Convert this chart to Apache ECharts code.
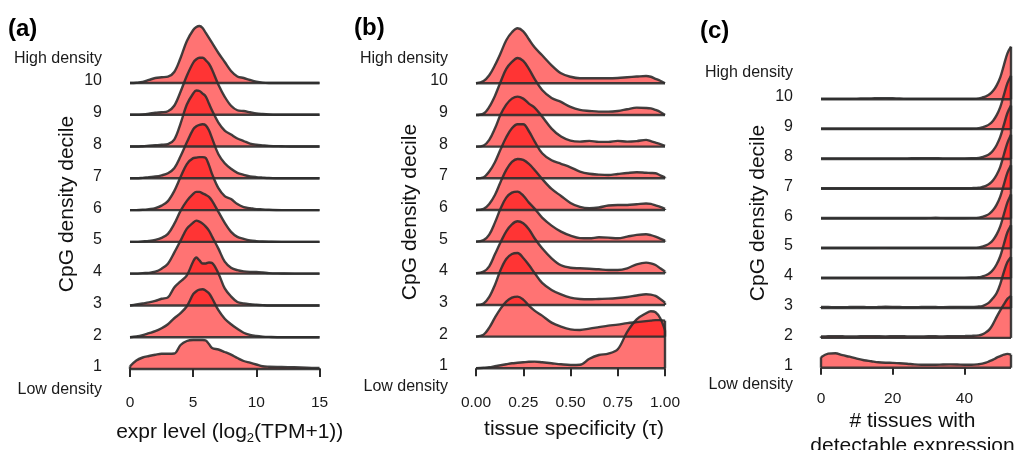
<!DOCTYPE html>
<html>
<head>
<meta charset="utf-8">
<script src="https://cdn.jsdelivr.net/npm/echarts@6/dist/echarts.min.js"></script>
<style>
html,body{margin:0;padding:0;background:#ffffff;}
#chart{width:1019px;height:450px;}
</style>
</head>
<body>
<div id="chart"></div>
<script>
// ---------- labels ----------
const deciles = ['1','2','3','4','5','6','7','8','9','10'];
const highLabel = 'High density';
const lowLabel = 'Low density';
const panelTitles = ['(a)', '(b)', '(c)'];
const yTitle = 'CpG density decile';

// ---------- panel (a): expression level, relative density per decile ----------
const exprX = [0,0.5,1,1.5,2,2.5,3,3.5,4,4.5,5,5.25,5.5,5.75,6,6.25,6.5,7,7.5,8,8.5,9,9.5,10,10.5,11,12,13,14,15];
const exprTicks = [0,5,10,15];
const exprD1  = [2.7,8.5,11.5,13,14.3,15.3,15.3,15.5,24,28,29,29,29,29,28.5,25,21,19.5,17,14.3,11,8,6.3,4.5,2.7,2.3,2,1.7,1.3,1];
const exprD2  = [0,0.7,2,4,6,9,13,19,24,31,43,46,47.5,48,46.5,44,39,27,18.5,13,8.5,4.5,2.3,1.2,0.6,0.3,0,0,0,0];
const exprD3  = [0,1,2,3,4.5,6.7,8,18,24,30,44,48,45,42,42,43,42.5,32,17,9,3.5,2,1.2,0.7,0.3,0,0,0,0,0];
const exprD4  = [0,0,0.5,0.8,2,5,10,21,33,45,51,53,52,50,47,43,37,25,12,6,3.5,2.3,1.8,1.7,1.2,0.5,0.2,0,0,0];
const exprD5  = [0,0,0.5,1,2,4,8,18,31,41,48,50,50,48.5,47,45,41,30,19,10,5,3,1.5,0.8,0.4,0.2,0,0,0,0];
const exprD6  = [0,0,0.3,1,2,4.5,9,19,33,46,52,52.5,53,53,52,45,36,22,14,11,6,3,2,1,0.7,0.3,0,0,0,0];
const exprD7  = [0,0,0.5,1.2,1.8,3,5,10,22,36,49,52,53.5,54,53,48,40,24,15,9.5,5.5,3.5,2,1.2,0.7,0.3,0,0,0,0];
const exprD8  = [0,0,0.3,0.8,1.3,1.8,2.5,7,23,42,53,56,55.5,53,50,43,36,24,16,12,8,5.5,3,1.8,1.2,0.7,0.3,0,0,0];
const exprD9  = [0,0,0.3,1,2,2.5,3.5,9,23,39,52,55.5,57,57,54.5,51,45,30,18,9,4.5,3.7,2.5,1.3,0.7,0.3,0,0,0,0];
const exprD10 = [0,0.3,1,3,5,5.7,6.3,11,25,42,53,56,57,55,50,45,40,30,21,12,6.5,5,3,1.3,0.3,0,0,0,0,0];

// ---------- panel (b): tissue specificity tau ----------
const tauX = [0,0.04,0.07,0.10,0.13,0.16,0.19,0.22,0.25,0.28,0.31,0.35,0.40,0.45,0.50,0.55,0.60,0.65,0.70,0.75,0.80,0.85,0.90,0.925,0.95,0.975,1.00];
const tauTicks = [0,0.25,0.5,0.75,1];
const tauD1  = [0,0.5,1,2,3,4,5,5.5,6,6.5,6.7,6,5,4,3.3,3.5,9.5,13.3,14.7,19,36.5,49,55,57,56,50,38];
const tauD2  = [0,2,9,19,28,35,39,40,37,31,26,21,14,10,7.3,6.7,8,9.5,11,12,13.5,14.5,15.5,16,16.5,16.5,16];
const tauD3  = [0,1.5,8,20,35,46,51,52,47,40,32,22,15,10.5,7.3,6,5.7,6,6.3,7,8,9.5,10.7,10.3,9,6,2.3];
const tauD4  = [0,1.7,7,19,31,42,49,52,50,44,35,25,15,8,5.5,5,4.5,4,3.3,3.3,5,9,10.7,10,8.3,5,1.7];
const tauD5  = [0,1.5,7,19,33,44,49,50,46,39,33,24,16,10,6,3.5,3.3,4.3,4,3.3,5,6.7,7.3,6.5,5,3,1];
const tauD6  = [0,1,6,15,28,40,48,51,50,46,40,31,21,14,7,3,1.7,2.5,4.5,5,5,5.7,6.5,6,4.5,3,1];
const tauD7  = [0,1,6.7,16,29,41,50,54,54,47,37,25,18,14.5,11,6.7,4.5,3.7,3.3,4.3,5.3,6,5.5,5.3,5,3,1];
const tauD8  = [0,1,6.7,18,32,42,48,50,48,43,39,30,18,10,6,5,5.7,4.7,4.7,5.7,5,5.5,6.7,5.5,4,2.5,0.7];
const tauD9  = [0,1.3,8,19,33,46,53,57,54,46,36,25,17,13,8,5,4,3.3,3.3,4,5.7,7.3,7,6.5,5,3,0];
const tauD10 = [0,2.3,8,18,30,43,51,55,52,44,36,28,18,10,6.5,5,5,5,5,5.3,6,6.7,7.3,6.5,4.5,2.5,0];

// ---------- panel (c): number of tissues with detectable expression ----------
const tissX = [0,2,4,6,8,10,12,14,16,18,20,22,24,26,28,30,32,34,36,38,40,42,44,45,46,47,48,49,50,51,52,53];
const tissTicks = [0,20,40];
const tissD1  = [10.5,14,14.5,12.5,11,9,7.5,6.5,5.5,5,4.8,4.5,4,3.3,3,3,3,3.2,3.3,3.2,3,3,3.5,4,5,6.5,8,10,11.5,13,13.8,13];
const tissD2  = [1.5,1.6,1.8,1.6,1.4,1.5,1.7,1.8,1.6,1.5,1.6,1.7,1.5,1.4,1.5,1.6,1.6,1.5,1.6,1.7,1.8,2,2.5,3.5,5.5,8.5,14,21,27.5,33.5,39,42];
const tissD3  = [1,1,0.8,0.8,1,1.2,1,0.8,1,1.3,1.2,1,0.8,0.8,1,1.1,1,0.9,1,1.2,1.1,1,1.5,2,3.5,6,10,15,24,36,46,51];
const tissD4  = [0.6,0.6,0.6,0.6,0.6,0.6,0.6,0.6,0.6,0.6,0.6,0.6,0.6,0.6,0.6,0.6,0.6,0.6,0.6,0.6,0.6,0.7,1,1.8,3,5,8.5,14,22,34,46,53];
const tissD5  = [0.6,0.6,0.6,0.6,0.6,0.6,0.6,0.7,0.8,0.8,0.7,0.6,0.6,0.6,0.6,0.6,0.6,0.6,0.6,0.6,0.6,0.7,1,1.8,3,5,8.5,14,22,34,46,54];
const tissD6  = [0.6,0.6,0.6,0.6,0.6,0.6,0.6,0.6,0.6,0.6,0.6,0.6,0.6,0.6,0.6,0.7,0.8,0.7,0.6,0.6,0.6,0.7,1,1.8,3,5,8.5,14,22,34,46,53.3];
const tissD7  = [0.6,0.6,0.6,0.6,0.6,0.6,0.6,0.6,0.6,0.6,0.6,0.6,0.6,0.6,0.6,0.6,0.6,0.6,0.6,0.6,0.6,0.7,1,1.8,3,5,8.5,14,22,34,46,54];
const tissD8  = [0.6,0.6,0.6,0.6,0.6,0.6,0.6,0.6,0.6,0.6,0.6,0.6,0.6,0.7,0.8,0.8,0.7,0.6,0.6,0.6,0.6,0.7,1,1.8,3,5,8.5,14,22,34,46,53.3];
const tissD9  = [0.6,0.6,0.6,0.6,0.6,0.6,0.6,0.6,0.6,0.6,0.6,0.6,0.6,0.6,0.6,0.6,0.6,0.6,0.6,0.6,0.6,0.7,1,1.8,3,5,8.5,14,22,34,46,53.3];
const tissD10 = [0.5,0.5,0.5,0.5,0.6,0.7,0.8,0.9,1.1,1.2,1,0.8,0.6,0.5,0.5,0.5,0.5,0.5,0.5,0.5,0.5,0.6,1,1.8,3,5,8.5,14,22,34,46,52.6];

// ---------- styling / layout ----------
const FONT = "'Liberation Sans', Arial, Helvetica, sans-serif";
const FILL = 'rgba(255,0,0,0.55)';
const OUTLINE = 'rgba(45,45,45,0.9)';
const LW = 2.4;
const TEXT = '#111111';

const panels = [
  { xs: exprX, ridges: [exprD1,exprD2,exprD3,exprD4,exprD5,exprD6,exprD7,exprD8,exprD9,exprD10],
    ticks: exprTicks, fmt: v => String(v), xmin: 0, xmax: 15,
    left: 130, right: 319.5, base1: 369, spacing: 31.78, top: 12, bottom: 396, axisPx: 380,
    tickLen: 8, labelMargin: 14.5, hiPx: 59, loPx: 390, lift: 2,
    xName: 'expr level (log{sub|2}(TPM+1))', xNameGap: 40, xNamePad: [0,0,0,10], yNameGap: 52 },
  { xs: tauX, ridges: [tauD1,tauD2,tauD3,tauD4,tauD5,tauD6,tauD7,tauD8,tauD9,tauD10],
    ticks: tauTicks, fmt: v => v.toFixed(2), xmin: 0, xmax: 1,
    left: 476, right: 665, base1: 368.3, spacing: 31.67, top: 29, bottom: 395, axisPx: 377,
    tickLen: 8, labelMargin: 17.5, hiPx: 59, loPx: 387, lift: 2.5,
    xName: 'tissue specificity (τ)', xNameGap: 40, xNamePad: [0,0,0,7], yNameGap: 55 },
  { xs: tissX, ridges: [tissD1,tissD2,tissD3,tissD4,tissD5,tissD6,tissD7,tissD8,tissD9,tissD10],
    ticks: tissTicks, fmt: v => String(v), xmin: 0, xmax: 53,
    left: 821, right: 1011, base1: 367.7, spacing: 29.82, top: 33, bottom: 393, axisPx: 376,
    tickLen: 7, labelMargin: 14.5, hiPx: 72.7, loPx: 385, lift: 2.5,
    xName: '# tissues with\ndetectable expression', xNameGap: 33, xNamePad: [0,7,0,0], yNameGap: 52 }
];
const titlePos = [{left: 8, top: 17}, {left: 354, top: 16}, {left: 700, top: 19}];

const grids = [], xAxes = [], yAxes = [], series = [];

panels.forEach((p, pi) => {
  const rowOf = px => (p.base1 - px) / p.spacing;   // pixel -> row units (layout helper)
  const yMin = rowOf(p.bottom), yMax = rowOf(p.top);
  grids.push({ left: p.left, top: p.top, width: p.right - p.left, height: p.bottom - p.top,
               outerBoundsMode: 'none', containLabel: false });

  xAxes.push({
    gridIndex: pi, type: 'value', min: p.xmin, max: p.xmax,
    offset: p.axisPx - p.bottom,
    axisLine: { show: false }, splitLine: { show: false },
    axisTick: { show: true, length: p.tickLen, customValues: p.ticks, lineStyle: { color: '#2a2a2a', width: 2 } },
    axisLabel: { customValues: p.ticks, formatter: p.fmt, margin: p.labelMargin,
                 fontSize: 15.5, color: '#1a1a1a', fontFamily: FONT },
    name: p.xName, nameLocation: 'middle', nameGap: p.xNameGap, nameMoveOverlap: false,
    nameTextStyle: { fontSize: 21, color: TEXT, fontFamily: FONT, lineHeight: 25, padding: p.xNamePad,
                     rich: { sub: { fontSize: 13, color: TEXT, fontFamily: FONT, padding: [12,0,0,0] } } }
  });

  const liftRows = p.lift / p.spacing;
  const labelVals = deciles.map((d, i) => i + liftRows);
  const labelTexts = deciles.slice();
  labelVals.push(rowOf(p.hiPx)); labelTexts.push(highLabel);
  labelVals.push(rowOf(p.loPx)); labelTexts.push(lowLabel);
  yAxes.push({
    gridIndex: pi, type: 'value', min: yMin, max: yMax,
    axisLine: { show: false }, axisTick: { show: false }, splitLine: { show: false },
    axisLabel: {
      customValues: labelVals, margin: 28, fontSize: 16, color: '#1a1a1a', fontFamily: FONT,
      formatter: v => {
        let best = 0, bd = Infinity;
        labelVals.forEach((lv, k) => { const d = Math.abs(lv - v); if (d < bd) { bd = d; best = k; } });
        return labelTexts[best];
      }
    },
    name: yTitle, nameLocation: 'middle', nameGap: p.yNameGap, nameMoveOverlap: false,
    nameTextStyle: { fontSize: 21, color: TEXT, fontFamily: FONT }
  });

  const scale = 1 / p.spacing;  // relative density -> row units
  const n = p.xs.length;
  for (let r = p.ridges.length - 1; r >= 0; r--) {
    const hs = p.ridges[r];
    const common = { type: 'line', xAxisIndex: pi, yAxisIndex: pi, symbol: 'none', clip: false,
                     silent: true, emphasis: { disabled: true } };
    // density ridge, filled down to its own baseline row
    series.push(Object.assign({}, common, {
      data: p.xs.map((x, j) => [x, r + hs[j] * scale]), smooth: 0.35,
      lineStyle: { color: OUTLINE, width: LW, join: 'round' },
      areaStyle: { color: FILL, opacity: 1, origin: r } }));
    // baseline and end edges of the ridge outline
    series.push(Object.assign({}, common, {
      data: [[p.xs[0], r], [p.xs[n - 1], r]], lineStyle: { color: OUTLINE, width: LW } }));
    series.push(Object.assign({}, common, {
      data: [[p.xs[0], r], [p.xs[0], r + hs[0] * scale]], lineStyle: { color: OUTLINE, width: LW } }));
    series.push(Object.assign({}, common, {
      data: [[p.xs[n - 1], r], [p.xs[n - 1], r + hs[n - 1] * scale]], lineStyle: { color: OUTLINE, width: LW } }));
  }
});

const chart = echarts.init(document.getElementById('chart'), null, { renderer: 'canvas' });
chart.setOption({
  animation: false,
  backgroundColor: '#ffffff',
  title: panelTitles.map((t, i) => ({ text: t, left: titlePos[i].left, top: titlePos[i].top, padding: 0,
    textStyle: { fontSize: 24, fontWeight: 'bold', color: '#000', fontFamily: FONT } })),
  grid: grids, xAxis: xAxes, yAxis: yAxes, series: series
});
</script>
</body>
</html>
